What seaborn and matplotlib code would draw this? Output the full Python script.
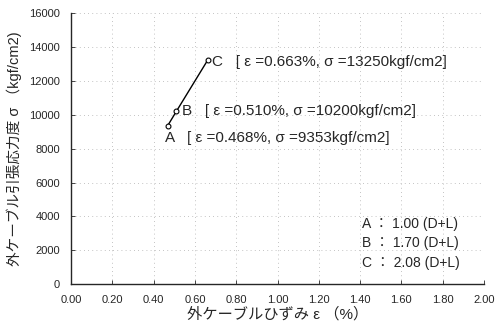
import matplotlib
matplotlib.use("Agg")
import matplotlib.pyplot as plt
import seaborn as sns
import pandas as pd

strain = [0.468, 0.510, 0.663]
stress = [9353, 10200, 13250]
names = ["A", "B", "C"]
factors = ["1.00 (D+L)", "1.70 (D+L)", "2.08 (D+L)"]
xticks = [0.0, 0.2, 0.4, 0.6, 0.8, 1.0, 1.2, 1.4, 1.6, 1.8, 2.0]
yticks = [0, 2000, 4000, 6000, 8000, 10000, 12000, 14000, 16000]

df = pd.DataFrame({"strain": strain, "stress": stress, "name": names})

sns.set_style("ticks")
plt.rcParams["font.family"] = ["Liberation Sans", "Noto Sans CJK JP", "DejaVu Sans"]

fig = plt.figure(figsize=(5, 3.3), dpi=100)
ax = fig.add_axes([0.142, 0.139, 0.826, 0.821])

sns.lineplot(data=df, x="strain", y="stress", ax=ax, color="black", lw=1,
             marker="o", markersize=3.5, markerfacecolor="white",
             markeredgecolor="black", markeredgewidth=0.8, sort=False)

ax.set_xlim(0, 2.0)
ax.set_ylim(0, 16000)
ax.set_xticks(xticks)
ax.set_xticklabels([f"{t:.2f}" for t in xticks])
ax.set_yticks(yticks)
ax.tick_params(direction="in", labelsize=8, length=3, width=0.6, pad=8)
ax.grid(True, color="#b0b0b0", linestyle=(0, (1, 4)), lw=0.6)
ax.spines["top"].set_visible(False)
ax.spines["right"].set_visible(False)
for s in ["left", "bottom"]:
    ax.spines[s].set_linewidth(1.0)

ax.set_xlabel("外ケーブルひずみ ε （%）", fontsize=11, labelpad=1)
ax.set_ylabel("外ケーブル引張応力度 σ （kgf/cm2)", fontsize=10.5, labelpad=5)

fs = 11
for x, y, n in zip(strain, stress, names):
    lbl = "[ ε =%.3f%%, σ =%dkgf/cm2]" % (x, y)
    if n == "A":
        ax.text(x - 0.015, y - 730, f"{n}   {lbl}", fontsize=fs, va="center", ha="left")
    elif n == "B":
        ax.text(x + 0.028, y, f"{n}   {lbl}", fontsize=fs, va="center", ha="left")
    else:
        ax.text(x + 0.018, y - 150, f"{n}   {lbl}", fontsize=fs, va="center", ha="left")

for i, (n, f) in enumerate(zip(names, factors)):
    ax.text(1.41, 3550 - i * 1150, f"{n} ： {f}", fontsize=10, va="center", ha="left")

fig.savefig("out.png", dpi=100)
